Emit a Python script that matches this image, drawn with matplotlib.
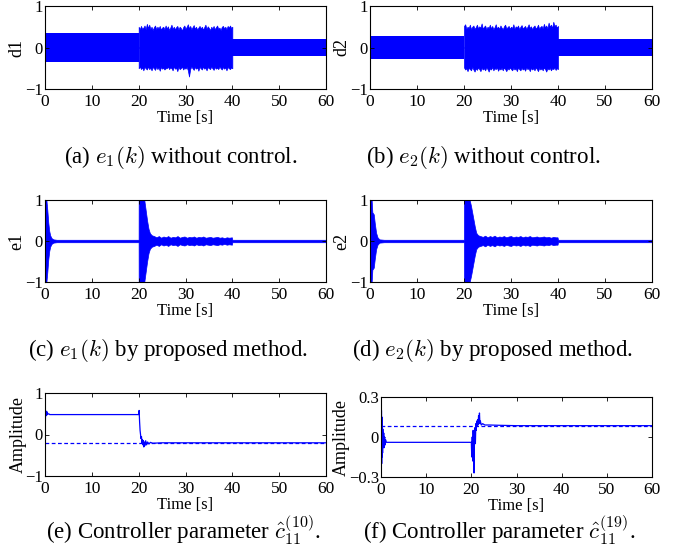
import matplotlib
matplotlib.use('Agg')
import matplotlib.pyplot as plt
import numpy as np

plt.rcParams['font.family'] = ['Liberation Serif', 'DejaVu Serif']
plt.rcParams['mathtext.fontset'] = 'cm'

# ---- data ----
# (a),(b): envelope of the disturbance signals d1, d2 (noisy part sampled every 0.25 s)
d1_band1 = 0.34
d1_band2 = 0.21
d1_noisy_up = [0.50, 0.44, 0.52, 0.45, 0.48, 0.53, 0.44, 0.57, 0.47, 0.55, 0.45, 0.50, 0.42, 0.49,
               0.53, 0.44, 0.50, 0.46, 0.52, 0.43, 0.48, 0.50, 0.44, 0.53, 0.46, 0.51, 0.42, 0.48,
               0.55, 0.45, 0.50, 0.44, 0.49, 0.52, 0.43, 0.50, 0.47, 0.41, 0.49, 0.53, 0.45, 0.50,
               0.56, 0.46, 0.52, 0.44, 0.49, 0.54, 0.45, 0.50, 0.43, 0.48, 0.52, 0.46, 0.50, 0.43,
               0.49, 0.55, 0.45, 0.51, 0.47, 0.42, 0.50, 0.46, 0.52, 0.44, 0.49, 0.53, 0.45, 0.48,
               0.42, 0.50, 0.52, 0.46, 0.50, 0.44, 0.52, 0.48, 0.53, 0.47, 0.50]
d1_noisy_lo = [-0.50, -0.46, -0.52, -0.48, -0.55, -0.47, -0.50, -0.53, -0.46, -0.52, -0.49, -0.55,
               -0.47, -0.50, -0.54, -0.46, -0.52, -0.48, -0.56, -0.47, -0.51, -0.49, -0.53, -0.50,
               -0.50, -0.46, -0.52, -0.48, -0.50, -0.55, -0.46, -0.51, -0.49, -0.57, -0.47, -0.52,
               -0.50, -0.46, -0.53, -0.49, -0.51, -0.47, -0.55, -0.70, -0.52, -0.46, -0.50, -0.54,
               -0.47, -0.51, -0.48, -0.56, -0.47, -0.50, -0.53, -0.46, -0.51, -0.49, -0.55, -0.47,
               -0.50, -0.52, -0.46, -0.50, -0.54, -0.47, -0.51, -0.49, -0.52, -0.46, -0.50, -0.53,
               -0.47, -0.51, -0.48, -0.55, -0.47, -0.50, -0.52, -0.48, -0.50]

d2_band1 = 0.27
d2_band2 = 0.21
d2_noisy_up = [0.52, 0.56, 0.45, 0.50, 0.47, 0.55, 0.44, 0.50, 0.53, 0.45, 0.49, 0.55, 0.46, 0.51,
               0.48, 0.58, 0.45, 0.50, 0.53, 0.44, 0.50, 0.47, 0.55, 0.46, 0.52, 0.44, 0.49, 0.56,
               0.46, 0.50, 0.45, 0.53, 0.48, 0.44, 0.51, 0.55, 0.46, 0.49, 0.52, 0.45, 0.50, 0.47,
               0.56, 0.45, 0.51, 0.48, 0.53, 0.44, 0.50, 0.54, 0.46, 0.49, 0.52, 0.45, 0.50, 0.56,
               0.47, 0.51, 0.44, 0.50, 0.53, 0.46, 0.49, 0.55, 0.45, 0.50, 0.52, 0.46, 0.57, 0.48,
               0.53, 0.46, 0.60, 0.50, 0.55, 0.47, 0.62, 0.52, 0.55, 0.48, 0.52]
d2_noisy_lo = [-0.48, -0.53, -0.50, -0.57, -0.49, -0.52, -0.55, -0.47, -0.53, -0.58, -0.50, -0.54,
               -0.48, -0.52, -0.57, -0.49, -0.53, -0.50, -0.55, -0.48, -0.52, -0.58, -0.50, -0.53,
               -0.47, -0.55, -0.50, -0.52, -0.48, -0.56, -0.50, -0.53, -0.49, -0.55, -0.48, -0.52,
               -0.57, -0.50, -0.53, -0.48, -0.52, -0.55, -0.49, -0.53, -0.50, -0.57, -0.48, -0.52,
               -0.55, -0.49, -0.53, -0.50, -0.56, -0.48, -0.52, -0.50, -0.57, -0.49, -0.53, -0.50,
               -0.55, -0.48, -0.52, -0.57, -0.49, -0.53, -0.50, -0.55, -0.48, -0.52, -0.58, -0.50,
               -0.53, -0.49, -0.55, -0.50, -0.52, -0.48, -0.54, -0.50, -0.52]

# (c),(d): envelope of tracking errors e1, e2
e1_t = [0, 0.3, 0.5, 0.7, 0.9, 1.1, 1.4, 1.8, 2.5, 5, 19.99,
        20.0, 21.2, 21.5, 21.8, 22.1, 22.4, 22.8, 23.3, 23.8, 24.3, 24.8, 25.3, 25.8, 26.3,
        26.8, 27.3, 27.8, 28.3, 28.8, 29.3, 29.8, 30.3, 30.8, 31.3, 31.8, 32.3, 32.8, 33.3,
        33.8, 34.3, 34.8, 35.3, 35.8, 36.3, 36.8, 37.3, 37.8, 38.3, 38.8, 39.3, 39.9, 40.0, 60]
e1_amp = [1, 1, 0.75, 0.45, 0.25, 0.14, 0.07, 0.04, 0.03, 0.03, 0.03,
          1, 1, 0.75, 0.5, 0.3, 0.19, 0.14, 0.12, 0.09, 0.12, 0.08, 0.11, 0.09, 0.12,
          0.08, 0.10, 0.09, 0.12, 0.08, 0.10, 0.11, 0.08, 0.10, 0.09, 0.11, 0.08, 0.10, 0.09,
          0.11, 0.08, 0.09, 0.10, 0.08, 0.09, 0.10, 0.08, 0.09, 0.07, 0.09, 0.08, 0.09, 0.03, 0.03]

e2_t = [0, 0.35, 0.5, 0.8, 1.0, 1.3, 1.6, 2.0, 3, 5, 19.99,
        20.0, 21.2, 21.5, 21.9, 22.3, 22.6, 23.0, 23.5, 24.0, 24.5, 25.0, 25.5, 26.0, 26.5,
        27.0, 27.5, 28.0, 28.5, 29.0, 29.5, 30.0, 30.5, 31.0, 31.5, 32.0, 32.5, 33.0, 33.5,
        34.0, 34.5, 35.0, 35.5, 36.0, 36.5, 37.0, 37.5, 38.0, 38.5, 39.0, 39.5, 39.9, 40.0, 60]
e2_amp = [1, 1, 0.7, 0.65, 0.45, 0.2, 0.09, 0.04, 0.03, 0.03, 0.03,
          1, 1, 0.85, 0.6, 0.35, 0.2, 0.14, 0.12, 0.10, 0.13, 0.09, 0.12, 0.10, 0.13,
          0.09, 0.11, 0.10, 0.12, 0.09, 0.11, 0.12, 0.09, 0.11, 0.10, 0.12, 0.09, 0.11, 0.10,
          0.12, 0.09, 0.10, 0.11, 0.09, 0.10, 0.11, 0.09, 0.10, 0.08, 0.10, 0.09, 0.09, 0.03, 0.03]

# (e),(f): controller parameters (solid) and reference values (dashed)
c10_t = [0, 0.02, 0.05, 0.1, 0.15, 0.2, 0.25, 0.3, 0.35, 0.4, 0.5, 0.6, 0.8, 1.0, 1.5,
         20.0, 20.1, 20.2, 20.3, 20.4, 20.5, 20.6, 20.7, 20.8, 20.9, 21.0, 21.1,
         21.2, 21.3, 21.5, 21.7, 21.9, 22.2, 22.5, 23, 25, 60]
c10_val = [0.0, -0.45, 0.1, 0.45, 0.56, 0.45, 0.55, 0.5, 0.56, 0.47, 0.53, 0.49, 0.5, 0.48, 0.48,
           0.48, 0.58, 0.3, 0.1, 0.0, -0.1, -0.05, -0.2, -0.12, -0.25, -0.15, -0.3,
           -0.18, -0.27, -0.15, -0.25, -0.18, -0.23, -0.19, -0.21, -0.2, -0.2]
c10_ref = -0.2

c19_t = [0, 0.05, 0.1, 0.15, 0.2, 0.25, 0.3, 0.35, 0.4, 0.5, 0.6, 0.7, 0.8, 0.9, 1.0, 1.2, 1.5,
         20.0, 20.1, 20.2, 20.3, 20.4, 20.5, 20.6, 20.7, 20.8, 20.9, 21.0, 21.1, 21.2, 21.3,
         21.4, 21.5, 21.6, 21.7, 21.8, 21.9, 22.0, 22.2, 22.5, 23, 24, 26, 30, 60]
c19_val = [0.28, -0.25, 0.2, -0.2, 0.15, -0.15, 0.1, -0.12, 0.06, -0.08, 0.03, -0.08, 0.0,
           -0.06, -0.02, -0.04, -0.04,
           -0.04, -0.15, 0.0, -0.18, 0.05, -0.1, -0.27, 0.0, 0.07, -0.05, 0.1, 0.05, 0.12,
           0.08, 0.13, 0.09, 0.16, 0.11, 0.18, 0.1, 0.12, 0.09, 0.1, 0.09, 0.09, 0.088,
           0.085, 0.085]
c19_ref = 0.08

captions = [r"(a) $e_1(k)$ without control.", r"(b) $e_2(k)$ without control.",
            r"(c) $e_1(k)$ by proposed method.", r"(d) $e_2(k)$ by proposed method.",
            r"(e) Controller parameter $\hat{c}_{11}^{(10)}$.",
            r"(f) Controller parameter $\hat{c}_{11}^{(19)}$."]
ylabels = ['d1', 'd2', 'e1', 'e2', 'Amplitude', 'Amplitude']

# ---- figure ----
W, H = 681, 558
fig = plt.figure(figsize=(W / 100, H / 100), dpi=100)
blue = '#0000ff'


def make_ax(l, r, t, b):
    ax = fig.add_axes([l / W, 1 - b / H, (r - l) / W, (b - t) / H])
    ax.set_xlim(0, 60)
    ax.set_xticks(range(0, 61, 10))
    ax.tick_params(direction='in', length=3, top=True, right=True,
                   labelsize=12.5, pad=3.5, width=0.6)
    ax.tick_params(axis='y', pad=1.5, labelsize=12)
    for s in ax.spines.values():
        s.set_linewidth(0.8)
    ax.set_xlabel('Time [s]', fontsize=12, labelpad=0)
    return ax


axs = [make_ax(45, 326, 6, 89), make_ax(370, 652, 6, 89),
       make_ax(45, 326, 200, 282), make_ax(370, 652, 200, 282),
       make_ax(45, 326, 393, 476), make_ax(381, 652, 397, 477)]

# (a),(b)
for ax, b1, b2, up, lo in [(axs[0], d1_band1, d1_band2, d1_noisy_up, d1_noisy_lo),
                           (axs[1], d2_band1, d2_band2, d2_noisy_up, d2_noisy_lo)]:
    ax.fill_between([0, 20], -b1, b1, color=blue, lw=0)
    ax.fill_between(np.linspace(20, 40, len(up)), 0, up, color=blue, lw=0.5, edgecolor=blue)
    ax.fill_between(np.linspace(20, 40, len(lo)), lo, 0, color=blue, lw=0.5, edgecolor=blue)
    ax.fill_between([40, 60], -b2, b2, color=blue, lw=0)

# (c),(d)
for ax, t, a in [(axs[2], e1_t, e1_amp), (axs[3], e2_t, e2_amp)]:
    a = np.array(a)
    ax.fill_between(t, -a, a, color=blue, lw=0.5, edgecolor=blue)

for ax in axs[:5]:
    ax.set_ylim(-1, 1)
    ax.set_yticks([-1, 0, 1])
    ax.set_yticklabels(['\u22121', '0', '1'])

# (e)
axs[4].plot(c10_t, c10_val, color=blue, lw=0.9)
axs[4].plot([0, 60], [c10_ref, c10_ref], color=blue, lw=0.9, ls=(0, (3, 2)))

# (f)
axs[5].plot(c19_t, c19_val, color=blue, lw=0.9)
axs[5].plot([0, 60], [c19_ref, c19_ref], color=blue, lw=0.9, ls=(0, (3, 2)))
axs[5].set_ylim(-0.3, 0.3)
axs[5].set_yticks([-0.3, 0, 0.3])
axs[5].set_yticklabels(['\u22120.3', '0', '0.3'])

for ax, yl in zip(axs, ylabels):
    ax.set_ylabel(yl, fontsize=13, labelpad=0 if yl != 'Amplitude' else -1)

# caption baselines
cap_pos = [(181, 163), (483, 163), (168, 356), (492, 356), (184, 539), (499, 539)]
for (x, y), c in zip(cap_pos, captions):
    fig.text(x / W, 1 - y / H, c, ha='center', va='baseline', fontsize=16.5)

plt.savefig('out.png', dpi=100)
